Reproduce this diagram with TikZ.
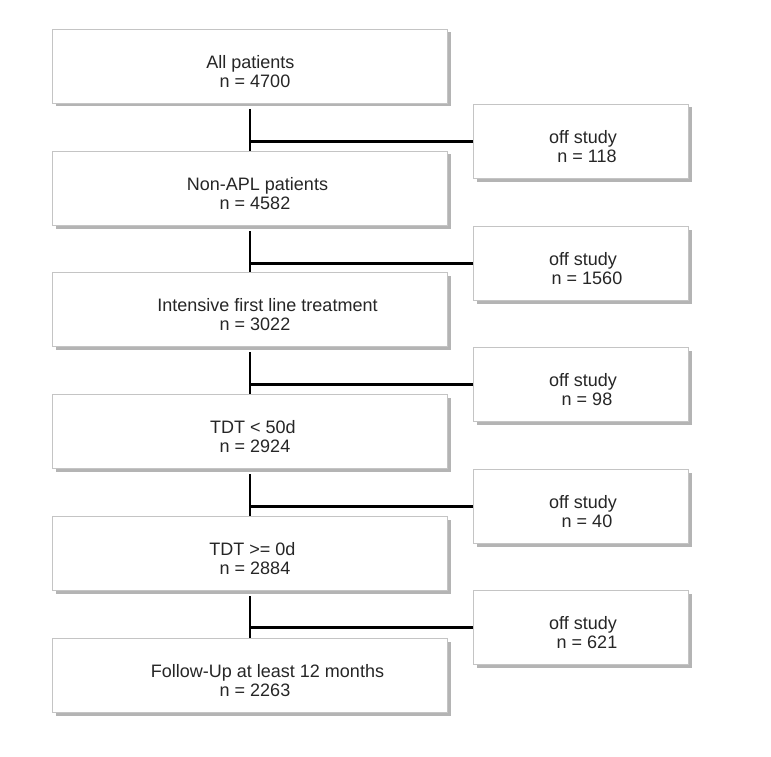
\documentclass[tikz,border=0pt]{standalone}
\usepackage{fontspec}
\setmainfont{Liberation Sans}
\usetikzlibrary{shadows}
\definecolor{boxline}{HTML}{C4C4C4}
\definecolor{shadowgray}{HTML}{B4B4B4}
\definecolor{txt}{HTML}{262626}
\begin{document}
\begin{tikzpicture}[x=1pt,y=-1pt,
  flowbox/.style={draw=boxline, line width=1pt, fill=white, rectangle,
    minimum width=395pt, minimum height=74pt, inner sep=0pt, align=center,
    anchor=north west,
    drop shadow={shadow xshift=3pt, shadow yshift=-3pt, fill=shadowgray, opacity=1}},
  sidebox/.style={flowbox, minimum width=215pt},
  lbl/.style={align=center, font=\fontsize{18}{18.7}\selectfont, text=txt, inner sep=0pt,
    yshift=-5pt},
  mainlbl/.style={lbl, xshift=5pt},
  sidelbl/.style={lbl, xshift=6pt},
  conn/.style={draw=black, line width=2.8pt}
]
\useasboundingbox (0,0) rectangle (771,757);
\node[flowbox] (m1) at (52,29)  {};
\node[flowbox] (m2) at (52,151) {};
\node[flowbox] (m3) at (52,272) {};
\node[flowbox] (m4) at (52,394) {};
\node[flowbox] (m5) at (52,516) {};
\node[flowbox] (m6) at (52,638) {};
\node[sidebox] (s1) at (473,104) {};
\node[sidebox] (s2) at (473,226) {};
\node[sidebox] (s3) at (473,347) {};
\node[sidebox] (s4) at (473,469) {};
\node[sidebox] (s5) at (473,590) {};
% texts
\node[mainlbl] (t1) at (m1.center) {All patients\hspace*{9pt}\\n = 4700};
\node[mainlbl] (t2) at (m2.center) {\hspace*{5pt}Non-APL patients\\n = 4582};
\node[mainlbl] (t3) at (m3.center) {\hspace*{25pt}Intensive first line treatment\\n = 3022};
\node[mainlbl] (t4) at (m4.center) {TDT < 50d\hspace*{4pt}\\n = 2924};
\node[mainlbl] (t5) at (m5.center) {TDT >= 0d\hspace*{5pt}\\n = 2884};
\node[mainlbl] (t6) at (m6.center) {\hspace*{25pt}Follow-Up at least 12 months\\n = 2263};
\node[sidelbl] (u1) at (s1.center) {off study\hspace*{8pt}\\n = 118};
\node[sidelbl] (u2) at (s2.center) {off study\hspace*{8pt}\\n = 1560};
\node[sidelbl] (u3) at (s3.center) {off study\hspace*{8pt}\\n = 98};
\node[sidelbl] (u4) at (s4.center) {off study\hspace*{8pt}\\n = 40};
\node[sidelbl] (u5) at (s5.center) {off study\hspace*{8pt}\\n = 621};
% connectors
\foreach \a/\b/\s in {m1/m2/s1, m2/m3/s2, m3/m4/s3, m4/m5/s4, m5/m6/s5}{
  \draw[conn] ([yshift=-5pt]\a.south) -- (\b.north);
  \draw[conn] (\s.west) -- (\s.west -| \a.south);
}
\end{tikzpicture}
\end{document}
